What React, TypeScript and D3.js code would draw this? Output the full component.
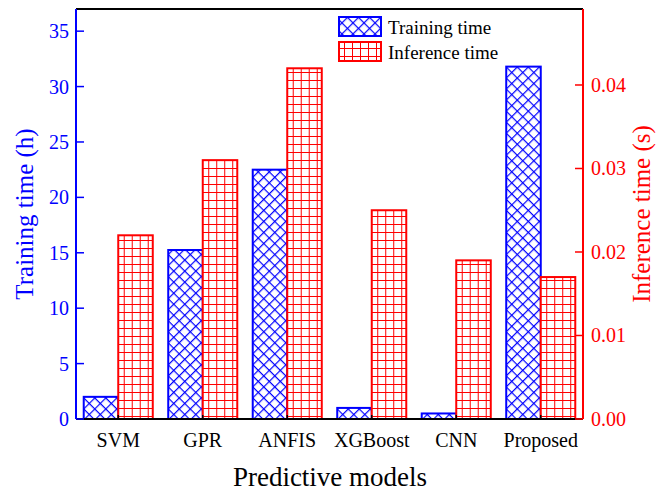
import React from 'react';
import * as d3 from 'd3';

const models = ['SVM', 'GPR', 'ANFIS', 'XGBoost', 'CNN', 'Proposed'];
const trainingTime = [2.0, 15.25, 22.5, 1.0, 0.5, 31.8];
const inferenceTime = [0.022, 0.031, 0.042, 0.025, 0.019, 0.017];
const leftTicks = [0, 5, 10, 15, 20, 25, 30, 35];
const rightTicks = [0, 0.01, 0.02, 0.03, 0.04];
const seriesNames = ['Training time', 'Inference time'];

const width = 662;
const height = 492;
const margin = { top: 9, right: 79, bottom: 73, left: 76 };
const BLUE = '#0000ff';
const RED = '#ff0000';
const FONT = '"Liberation Serif", "Times New Roman", serif';

const App = () => {
    const x0 = d3.scaleBand()
        .domain(models)
        .range([margin.left, width - margin.right])
        .paddingInner(0.183)
        .paddingOuter(0.0915);
    const x1 = d3.scaleBand()
        .domain(seriesNames)
        .range([0, x0.bandwidth()]);
    const yL = d3.scaleLinear().domain([0, 37]).range([height - margin.bottom, margin.top]);
    const yR = d3.scaleLinear().domain([0, 0.0491]).range([height - margin.bottom, margin.top]);

    const left = margin.left;
    const right = width - margin.right;
    const top = margin.top;
    const bottom = height - margin.bottom;

    return (
        <svg width={width} height={height} style={{ position: 'absolute', left: 0, top: 0, background: '#fff' }}>
            <defs>
                <pattern id="hatchBlue" patternUnits="userSpaceOnUse" width="7.8" height="7.8" patternTransform="rotate(45)">
                    <rect width="7.8" height="7.8" fill="#fff" />
                    <line x1="0" y1="0" x2="0" y2="7.8" stroke={BLUE} strokeWidth="2.4" />
                    <line x1="0" y1="0" x2="7.8" y2="0" stroke={BLUE} strokeWidth="2.4" />
                </pattern>
                <pattern id="gridRed" patternUnits="userSpaceOnUse" width="8" height="8">
                    <rect width="8" height="8" fill="#fff" />
                    <line x1="0" y1="0" x2="0" y2="8" stroke={RED} strokeWidth="2" />
                    <line x1="0" y1="0" x2="8" y2="0" stroke={RED} strokeWidth="2" />
                </pattern>
            </defs>

            {models.map((m, i) => (
                <g key={m} transform={`translate(${x0(m)},0)`}>
                    <rect
                        x={x1('Training time')}
                        y={yL(trainingTime[i])}
                        width={x1.bandwidth()}
                        height={bottom - yL(trainingTime[i])}
                        fill="url(#hatchBlue)"
                        stroke={BLUE}
                        strokeWidth={2}
                    />
                    <rect
                        x={x1('Inference time')}
                        y={yR(inferenceTime[i])}
                        width={x1.bandwidth()}
                        height={bottom - yR(inferenceTime[i])}
                        fill="url(#gridRed)"
                        stroke={RED}
                        strokeWidth={2}
                    />
                </g>
            ))}

            {/* frame */}
            <line x1={left} y1={top} x2={right} y2={top} stroke="#000" strokeWidth={2} />
            <line x1={left} y1={bottom} x2={right} y2={bottom} stroke="#000" strokeWidth={2} />
            <line x1={left} y1={top} x2={left} y2={bottom} stroke={BLUE} strokeWidth={2} />
            <line x1={right} y1={top} x2={right} y2={bottom} stroke={RED} strokeWidth={2} />

            {/* bottom axis */}
            {models.map(m => {
                const cx = (x0(m) as number) + x0.bandwidth() / 2;
                return (
                    <g key={m}>
                        <line x1={cx} y1={bottom} x2={cx} y2={bottom - 4} stroke="#000" strokeWidth={1.5} />
                        <text x={cx} y={bottom + 28} textAnchor="middle" fontFamily={FONT} fontSize={20} fill="#000">{m}</text>
                    </g>
                );
            })}

            {/* left axis */}
            {leftTicks.map(t => (
                <g key={t}>
                    <line x1={left} y1={yL(t)} x2={left + 8} y2={yL(t)} stroke={BLUE} strokeWidth={1.5} />
                    <text x={left - 7} y={yL(t)} dy="0.35em" textAnchor="end" fontFamily={FONT} fontSize={20} fill={BLUE}>{t}</text>
                </g>
            ))}

            {/* right axis */}
            {rightTicks.map(t => (
                <g key={t}>
                    <line x1={right} y1={yR(t)} x2={right - 8} y2={yR(t)} stroke={RED} strokeWidth={1.5} />
                    <text x={right + 8} y={yR(t)} dy="0.35em" textAnchor="start" fontFamily={FONT} fontSize={20} fill={RED}>{t.toFixed(2)}</text>
                </g>
            ))}

            {/* axis titles */}
            <text x={330} y={486} textAnchor="middle" fontFamily={FONT} fontSize={27} fill="#000">Predictive models</text>
            <text transform={`translate(33,${(top + bottom) / 2}) rotate(-90)`} textAnchor="middle" fontFamily={FONT} fontSize={25} fill={BLUE}>Training time (h)</text>
            <text transform={`translate(650,${(top + bottom) / 2}) rotate(-90)`} textAnchor="middle" fontFamily={FONT} fontSize={25} fill={RED}>Inference time (s)</text>

            {/* legend */}
            <g>
                <rect x={339} y={17} width={42} height={19} fill="url(#hatchBlue)" stroke={BLUE} strokeWidth={2} />
                <text x={388} y={27} dy="0.35em" fontFamily={FONT} fontSize={19} fill="#000">{seriesNames[0]}</text>
                <rect x={339} y={42} width={42} height={19} fill="url(#gridRed)" stroke={RED} strokeWidth={2} />
                <text x={388} y={52} dy="0.35em" fontFamily={FONT} fontSize={19} fill="#000">{seriesNames[1]}</text>
            </g>
        </svg>
    );
};

export default App;
